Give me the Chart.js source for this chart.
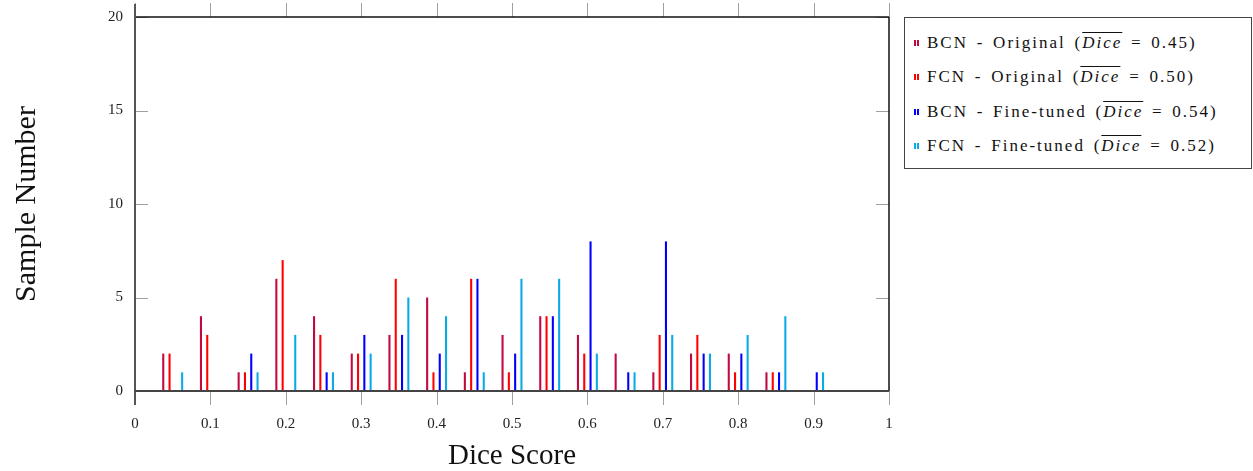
<!DOCTYPE html>
<html>
<head>
<meta charset="utf-8">
<script src="https://cdn.jsdelivr.net/npm/chart.js@4.4.1/dist/chart.umd.min.js"></script>
<style>
  body { margin: 0; background: #fff; font-family: "Liberation Serif", "DejaVu Serif", serif; }
  #wrap { position: relative; width: 1253px; height: 471px; }
  #legend {
    position: absolute; left: 904px; top: 17px; width: 346px; height: 150px;
    border: 1.5px solid #444; background: #fff; color: #111;
  }
  .row {
    position: absolute; left: 9px; white-space: nowrap;
    font-family: "Liberation Serif", "DejaVu Serif", serif; font-size: 17px;
    letter-spacing: 2px; word-spacing: 2.5px;
  }
  .mk { display: inline-block; width: 5px; height: 6px; margin-right: 8px; vertical-align: 2px; }
  .ov { font-style: italic; text-decoration: overline; }
</style>
</head>
<body>
<div id="wrap">
  <canvas id="chart" width="1253" height="471"></canvas>
  <div id="legend"></div>
</div>
<script>
// histogram bins (centre of each 0.05 bin)
const binCenters = [0.05, 0.10, 0.15, 0.20, 0.25, 0.30, 0.35, 0.40, 0.45, 0.50,
                    0.55, 0.60, 0.65, 0.70, 0.75, 0.80, 0.85, 0.90, 0.95];
const bcnOriginal  = [2, 4, 1, 6, 4, 2, 3, 5, 1, 3, 4, 3, 2, 1, 2, 2, 1, 0, 0];
const fcnOriginal  = [2, 3, 1, 7, 3, 2, 6, 1, 6, 1, 4, 2, 0, 3, 3, 1, 1, 0, 0];
const bcnFineTuned = [0, 0, 2, 0, 1, 3, 3, 2, 6, 2, 4, 8, 1, 8, 2, 2, 1, 1, 0];
const fcnFineTuned = [1, 0, 1, 3, 1, 2, 5, 4, 1, 6, 6, 2, 1, 3, 2, 3, 4, 1, 0];

const seriesNames = ["BCN - Original", "FCN - Original", "BCN - Fine-tuned", "FCN - Fine-tuned"];
const meanDice = ["0.45", "0.50", "0.54", "0.52"];
const colors = ["#c1083f", "#ff0000", "#0000ff", "#0aaae6"];

function $(id){ return document.getElementById(id); }

function points(vals){
  return binCenters.map((x, i) => ({ x, y: vals[i] }));
}

const frame = {
  id: "frame",
  afterDatasetsDraw(chart){
    const { ctx, chartArea: a, scales: { x, y } } = chart;
    const line = (x1, y1, x2, y2) => { ctx.beginPath(); ctx.moveTo(x1, y1); ctx.lineTo(x2, y2); ctx.stroke(); };
    ctx.save();
    ctx.strokeStyle = "#a0a0a0";
    ctx.lineWidth = 1;
    x.ticks.forEach(t => {
      const px = Math.round(x.getPixelForValue(t.value)) + 0.5;
      line(px, a.bottom, px, a.bottom + 14);
      line(px, a.top, px, a.top - 14);
    });
    y.ticks.forEach(t => {
      const py = Math.round(y.getPixelForValue(t.value)) + 0.5;
      line(a.left, py, a.left + 13, py);
      line(a.right - 13, py, a.right, py);
    });
    ctx.lineWidth = 1.5;
    ctx.strokeStyle = "#111";
    line(a.left, a.top, a.right, a.top);
    line(a.right, a.top, a.right, a.bottom);
    ctx.lineWidth = 2;
    ctx.strokeStyle = "#555";
    line(a.left, a.top - 13, a.left, a.bottom + 14);
    ctx.strokeStyle = "#444";
    line(a.left, a.bottom, a.right, a.bottom);
    ctx.restore();
  }
};

function buildLegend(){
  const box = $("legend");
  seriesNames.forEach((name, i) => {
    const row = document.createElement("div");
    row.className = "row";
    row.style.top = (15 + i * 34.3) + "px";
    row.innerHTML = `<span class="mk" style="background:linear-gradient(90deg, ${colors[i]} 0 2px, transparent 2px 3px, ${colors[i]} 3px 5px)"></span>` +
      `${name} (<span class="ov">Dice</span> = ${meanDice[i]})`;
    box.appendChild(row);
  });
}

const serif = "'Liberation Serif', serif";

new Chart($("chart"), {
  type: "bar",
  data: {
    datasets: [bcnOriginal, fcnOriginal, bcnFineTuned, fcnFineTuned].map((vals, i) => ({
      label: seriesNames[i],
      data: points(vals),
      backgroundColor: colors[i],
      borderWidth: 0,
      categoryPercentage: 0.668,
      barPercentage: 0.33
    }))
  },
  options: {
    responsive: false,
    animation: false,
    layout: { padding: { left: 0, right: 364, top: 17, bottom: 0 } },
    plugins: { legend: { display: false }, tooltip: { enabled: false } },
    scales: {
      x: {
        type: "linear", min: 0, max: 1, offset: false,
        grid: { display: false, drawTicks: false },
        border: { display: false },
        ticks: {
          stepSize: 0.1, padding: 24, maxRotation: 0, autoSkip: false,
          color: "#222", font: { family: serif, size: 15 },
          callback: v => String(Math.round(v * 10) / 10)
        },
        title: {
          display: true, text: "Dice Score", color: "#111",
          font: { family: serif, size: 29, lineHeight: 1 }, padding: 0
        },
        afterFit: s => { s.height = 80; s.paddingLeft = 0; s.paddingRight = 0; }
      },
      y: {
        min: 0, max: 20,
        grid: { display: false, drawTicks: false },
        border: { display: false },
        ticks: { stepSize: 5, padding: 12, color: "#222", font: { family: serif, size: 15 } },
        title: {
          display: true, text: "Sample Number", color: "#111",
          font: { family: serif, size: 30, lineHeight: 1 }, padding: { top: 12, bottom: 0 }
        },
        afterFit: s => { s.width = 135; s.paddingTop = 0; s.paddingBottom = 0; }
      }
    }
  },
  plugins: [frame]
});

buildLegend();
</script>
</body>
</html>
